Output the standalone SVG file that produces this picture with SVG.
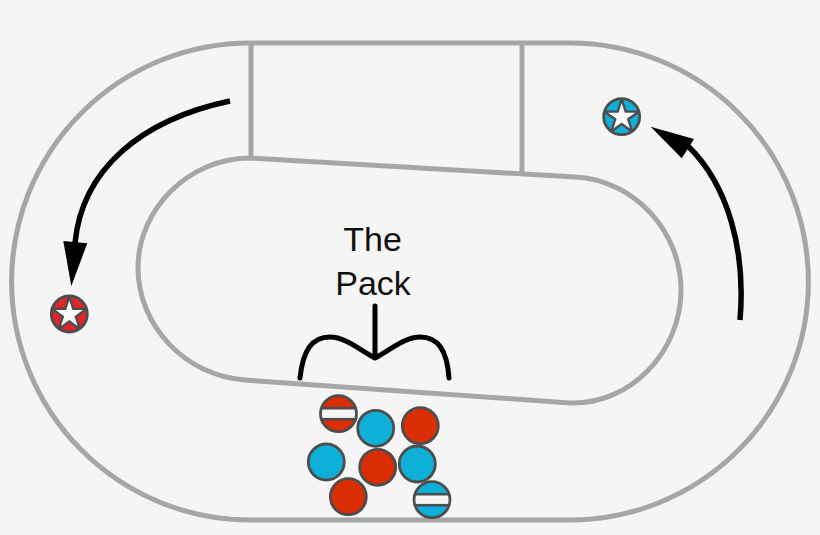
<svg xmlns="http://www.w3.org/2000/svg" width="820" height="535" viewBox="0 0 820 535">
<style>
.track{fill:none;stroke:#a6a6a6;stroke-width:5}
.conn{fill:none;stroke:#000;stroke-width:5.500}
.head{fill:#000}
.bracket{fill:none;stroke:#000;stroke-width:5;stroke-linecap:round;stroke-linejoin:round}
.puck{stroke:#4d4d4d;stroke-width:2.800}
.ring{fill:none;stroke:#4d4d4d;stroke-width:2.800}
.red{fill:#db2e05}
.star-red{fill:#e0262b}
.blue{fill:#0fb0d8}
.band{fill:#f5f5f5;stroke:#4d4d4d;stroke-width:2.600}
.star{fill:#f8f8f8;stroke:#4d4d4d;stroke-width:2.400;stroke-miterlimit:10}
text{font-family:"Liberation Sans",Arial,sans-serif;font-size:34px;fill:#111;text-anchor:middle}
</style>
<defs>
<clipPath id="c"><circle r="18"/></clipPath>
<polygon id="s" points="0,-18 4,-5.600 17.100,-5.600 6.500,2.100 10.600,14.600 0,6.900 -10.600,14.600 -6.500,2.100 -17.100,-5.600 -4,-5.600"/>
<g id="bar"><rect class="band" x="-20" y="-5.500" width="40" height="11"/></g>
</defs>
<rect width="820" height="535" fill="#f5f5f5"/>
<g id="track">
<path class="track" d="M250 43H570A238.500 238.500 0 0 1 570 520H250A238.500 238.500 0 0 1 250 43Z"/>
<path class="track" d="M250 158L575 177C635 180 681 232 681 290C681 352 630 405 570 403L245 380C185 376 138 325 138 268C138 208 190 158 250 158Z"/>
<path class="track" d="M251 43V158M522 43V175"/>
</g>
<g id="connectors">
<path class="conn" d="M230 101C140 120 82 170 75 243"/>
<polygon class="head" points="71.300,286 63.300,241 87.300,243.300"/>
<path class="conn" d="M740 320C746 250 728 185 688 146"/>
<polygon class="head" points="650.700,126.700 694,139 681.700,158.300"/>
<path class="bracket" d="M300 378C303 350 312 337 330 337C345 337 360 350 375 358C390 350 405 337 420 337C438 337 447 350 449 378M375 306V358"/>
</g>
<g id="label"><text x="372.500" y="251">The</text><text x="373" y="295">Pack</text></g>
<g id="jammer-red" transform="translate(69.300 314)"><circle class="star-red" r="18"/><g clip-path="url(#c)"><use href="#s" class="star" y="0.500"/></g><circle class="ring" r="18"/></g>
<g id="jammer-blue" transform="translate(621.700 116.700)"><circle class="blue" r="18"/><g clip-path="url(#c)"><use href="#s" class="star" y="0.500"/></g><circle class="ring" r="18"/></g>
<g id="pivot-red" transform="translate(338.500 413.700)"><circle class="red" r="18"/><g clip-path="url(#c)"><use href="#bar"/></g><circle class="ring" r="18"/></g>
<g id="p1"><circle class="puck blue" cx="375.700" cy="428.300" r="18"/></g>
<g id="p2"><circle class="puck red" cx="420.300" cy="425.700" r="18"/></g>
<g id="p3"><circle class="puck blue" cx="326.300" cy="462" r="18"/></g>
<g id="p4"><circle class="puck red" cx="377.700" cy="467.300" r="18"/></g>
<g id="p5"><circle class="puck blue" cx="417.300" cy="464" r="18"/></g>
<g id="p6"><circle class="puck red" cx="348.300" cy="496.700" r="18"/></g>
<g id="pivot-blue" transform="translate(432 499.700)"><circle class="blue" r="18"/><g clip-path="url(#c)"><use href="#bar"/></g><circle class="ring" r="18"/></g>
</svg>
